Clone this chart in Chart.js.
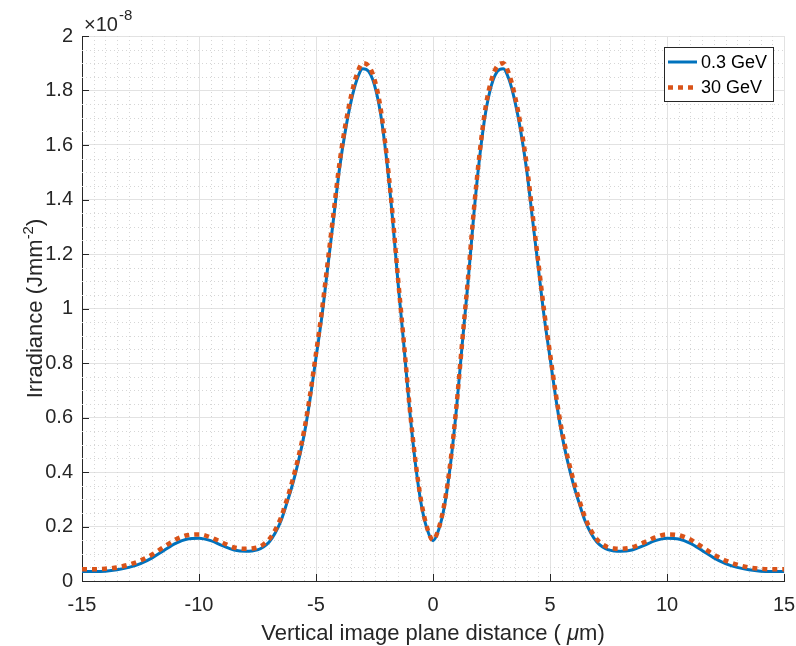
<!DOCTYPE html>
<html><head><meta charset="utf-8">
<script src="https://cdn.jsdelivr.net/npm/chart.js@4/dist/chart.umd.min.js"></script>
<style>html,body{margin:0;padding:0;background:#fff}#wrap{width:796px;height:646px}</style>
</head><body><div id="wrap"><canvas id="c" width="796" height="646"></canvas></div>
<script>
// Vertical image plane distance (µm)
const positions = [-15,-14.5,-14,-13.5,-13,-12.5,-12,-11.5,-11,-10.5,-10,-9.5,-9,-8.5,-8,-7.75,-7.5,-7.25,-7,-6.75,-6.5,-6.25,-6,-5.75,-5.5,-5.25,-5,-4.75,-4.5,-4.25,-4,-3.75,-3.5,-3.25,-3,-2.75,-2.5,-2.25,-2,-1.75,-1.5,-1.25,-1,-0.75,-0.5,-0.25,0,0.25,0.5,0.75,1,1.25,1.5,1.75,2,2.25,2.5,2.75,3,3.25,3.5,3.75,4,4.25,4.5,4.75,5,5.25,5.5,5.75,6,6.25,6.5,6.75,7,7.25,7.5,7.75,8,8.5,9,9.5,10,10.5,11,11.5,12,12.5,13,13.5,14,14.5,15];
// Irradiance in units of 1e-8 J mm^-2
const irr03GeV = [0.035,0.035,0.036,0.041,0.05,0.064,0.085,0.112,0.138,0.154,0.157,0.148,0.13,0.114,0.109,0.110,0.114,0.125,0.143,0.175,0.22,0.285,0.355,0.44,0.54,0.67,0.82,0.97,1.15,1.33,1.51,1.65,1.76,1.84,1.88,1.87,1.82,1.72,1.56,1.35,1.10,0.87,0.63,0.43,0.28,0.19,0.148,0.19,0.28,0.43,0.63,0.87,1.10,1.35,1.56,1.72,1.82,1.87,1.88,1.84,1.76,1.65,1.51,1.33,1.15,0.97,0.82,0.67,0.54,0.44,0.355,0.285,0.22,0.175,0.143,0.125,0.114,0.110,0.109,0.114,0.13,0.148,0.157,0.154,0.138,0.112,0.085,0.064,0.05,0.041,0.036,0.035,0.035];
const irr30GeV = [0.043,0.043,0.045,0.05,0.06,0.075,0.097,0.125,0.152,0.168,0.171,0.16,0.141,0.123,0.118,0.119,0.123,0.134,0.153,0.186,0.232,0.297,0.37,0.455,0.555,0.685,0.835,0.99,1.17,1.35,1.53,1.67,1.78,1.86,1.90,1.89,1.84,1.74,1.575,1.365,1.115,0.88,0.64,0.44,0.29,0.195,0.15,0.195,0.29,0.44,0.64,0.88,1.115,1.365,1.575,1.74,1.84,1.89,1.90,1.86,1.78,1.67,1.53,1.35,1.17,0.99,0.835,0.685,0.555,0.455,0.37,0.297,0.232,0.186,0.153,0.134,0.123,0.119,0.118,0.123,0.141,0.16,0.171,0.168,0.152,0.125,0.097,0.075,0.06,0.05,0.045,0.043,0.043];
const seriesLabels = ['0.3 GeV', '30 GeV'];
const xTickValues = [-15,-10,-5,0,5,10,15];
const yTickValues = [0,0.2,0.4,0.6,0.8,1,1.2,1.4,1.6,1.8,2];
const yExponent = '-8';
const xTitle = ['Vertical image plane distance ( ', '\u03bc', 'm)'];
const yTitle = ['Irradiance (Jmm', '-2', ')'];

const FONT = '"Liberation Sans", Arial, Helvetica, sans-serif';
const TXT = '#262626';

const decor = {
  id: 'decor',
  beforeDatasetsDraw(chart) {
    const {ctx, chartArea: a, scales: {x, y}} = chart;
    ctx.save();
    ctx.strokeStyle = '#d6d6d6';
    ctx.lineWidth = 1;
    ctx.setLineDash([1, 3]);
    for (let v = -15; v <= 15.0001; v += 0.5) {
      if (Math.abs(v % 5) < 1e-6) continue;
      const px = Math.round(x.getPixelForValue(v)) + 0.5;
      ctx.beginPath(); ctx.moveTo(px, a.top); ctx.lineTo(px, a.bottom); ctx.stroke();
    }
    for (let i = 0; i <= 40; i++) {
      if (i % 4 === 0) continue;
      const py = Math.round(y.getPixelForValue(i * 0.05)) + 0.5;
      ctx.beginPath(); ctx.moveTo(a.left, py); ctx.lineTo(a.right, py); ctx.stroke();
    }
    ctx.restore();
  },
  afterDraw(chart) {
    const {ctx, chartArea: a, scales: {x, y}} = chart;
    ctx.save();
    // inward ticks
    ctx.strokeStyle = TXT; ctx.lineWidth = 1; ctx.setLineDash([]);
    xTickValues.forEach(v => {
      const px = Math.round(x.getPixelForValue(v)) + 0.5;
      ctx.beginPath(); ctx.moveTo(px, a.bottom); ctx.lineTo(px, a.bottom - 7); ctx.stroke();
    });
    yTickValues.forEach(v => {
      const py = Math.round(y.getPixelForValue(v)) + 0.5;
      ctx.beginPath(); ctx.moveTo(a.left, py); ctx.lineTo(a.left + 7, py); ctx.stroke();
    });
    // exponent
    ctx.fillStyle = TXT;
    ctx.textBaseline = 'alphabetic'; ctx.textAlign = 'left';
    ctx.font = '20px ' + FONT;
    const ex0 = a.left + 2;
    ctx.fillText('\u00d710', ex0, 31);
    const w10 = ctx.measureText('\u00d710').width;
    ctx.font = '15px ' + FONT;
    ctx.fillText(yExponent, ex0 + w10 + 1, 20);
    // x title
    ctx.font = '22px ' + FONT;
    const w1 = ctx.measureText(xTitle[0]).width;
    ctx.font = 'italic 22px ' + FONT;
    const w2 = ctx.measureText(xTitle[1]).width;
    ctx.font = '22px ' + FONT;
    const w3 = ctx.measureText(xTitle[2]).width;
    let sx = (a.left + a.right) / 2 - (w1 + w2 + w3) / 2;
    const by = 640;
    ctx.fillText(xTitle[0], sx, by); sx += w1;
    ctx.font = 'italic 22px ' + FONT; ctx.fillText(xTitle[1], sx, by); sx += w2;
    ctx.font = '22px ' + FONT; ctx.fillText(xTitle[2], sx, by);
    // y title
    ctx.save();
    ctx.translate(42, (a.top + a.bottom) / 2);
    ctx.rotate(-Math.PI / 2);
    ctx.font = '22px ' + FONT;
    const t1 = ctx.measureText(yTitle[0]).width;
    const t3 = ctx.measureText(yTitle[2]).width;
    ctx.font = '15px ' + FONT;
    const t2 = ctx.measureText(yTitle[1]).width;
    let sy = -(t1 + t2 + t3) / 2;
    ctx.font = '22px ' + FONT; ctx.fillText(yTitle[0], sy, 0); sy += t1;
    ctx.font = '15px ' + FONT; ctx.fillText(yTitle[1], sy, -9); sy += t2;
    ctx.font = '22px ' + FONT; ctx.fillText(yTitle[2], sy, 0);
    ctx.restore();
    // legend
    const lw = 109, lh = 54;
    const lx = a.right - 11 - lw, ly = a.top + 11;
    ctx.fillStyle = '#fff';
    ctx.fillRect(lx, ly, lw, lh);
    ctx.strokeStyle = TXT; ctx.lineWidth = 1;
    ctx.strokeRect(Math.round(lx) + 0.5, Math.round(ly) + 0.5, lw, lh);
    ctx.font = '18px ' + FONT; ctx.textBaseline = 'middle';
    chart.data.datasets.forEach((ds, i) => {
      const yy = ly + 15 + i * 25.5;
      ctx.strokeStyle = ds.borderColor; ctx.lineWidth = ds.borderWidth;
      ctx.setLineDash(ds.borderDash || []);
      ctx.lineCap = 'butt';
      ctx.beginPath(); ctx.moveTo(lx + 4, yy); ctx.lineTo(lx + 33, yy); ctx.stroke();
      ctx.setLineDash([]);
      ctx.fillStyle = '#000';
      ctx.fillText(ds.label, lx + 37, yy + 1);
    });
    ctx.restore();
  }
};

new Chart(document.getElementById('c'), {
  type: 'line',
  data: {
    datasets: [
      { label: seriesLabels[0], data: positions.map((p, i) => ({x: p, y: irr03GeV[i]})),
        borderColor: '#0072BD', borderWidth: 3, pointRadius: 0, fill: false,
        cubicInterpolationMode: 'monotone', order: 2 },
      { label: seriesLabels[1], data: positions.map((p, i) => ({x: p, y: irr30GeV[i]})),
        borderColor: '#D95319', borderWidth: 4.5, borderDash: [5, 5], borderCapStyle: 'butt',
        pointRadius: 0, fill: false, cubicInterpolationMode: 'monotone', order: 1 }
    ]
  },
  options: {
    responsive: false, animation: false, devicePixelRatio: 1,
    layout: { padding: { left: 0, right: 0, top: 36, bottom: 0 } },
    plugins: { legend: { display: false }, tooltip: { enabled: false } },
    scales: {
      x: {
        type: 'linear', min: -15, max: 15,
        afterBuildTicks: s => { s.ticks = xTickValues.map(v => ({value: v})); },
        afterFit: s => { s.height = 65; s.paddingRight = 12; },
        grid: { color: '#e2e2e2', lineWidth: 1, drawTicks: false },
        border: { color: TXT, width: 1 },
        ticks: { color: TXT, font: { family: FONT, size: 20 }, padding: 12, maxRotation: 0, autoSkip: false,
                 callback: v => String(v) }
      },
      y: {
        type: 'linear', min: 0, max: 2,
        afterBuildTicks: s => { s.ticks = yTickValues.map(v => ({value: v})); },
        afterFit: s => { s.width = 82; },
        grid: { color: '#e2e2e2', lineWidth: 1, drawTicks: false },
        border: { color: TXT, width: 1 },
        ticks: { color: TXT, font: { family: FONT, size: 20 }, padding: 9,
                 callback: v => String(parseFloat(Number(v).toFixed(2))) }
      }
    }
  },
  plugins: [decor]
});
</script></body></html>
